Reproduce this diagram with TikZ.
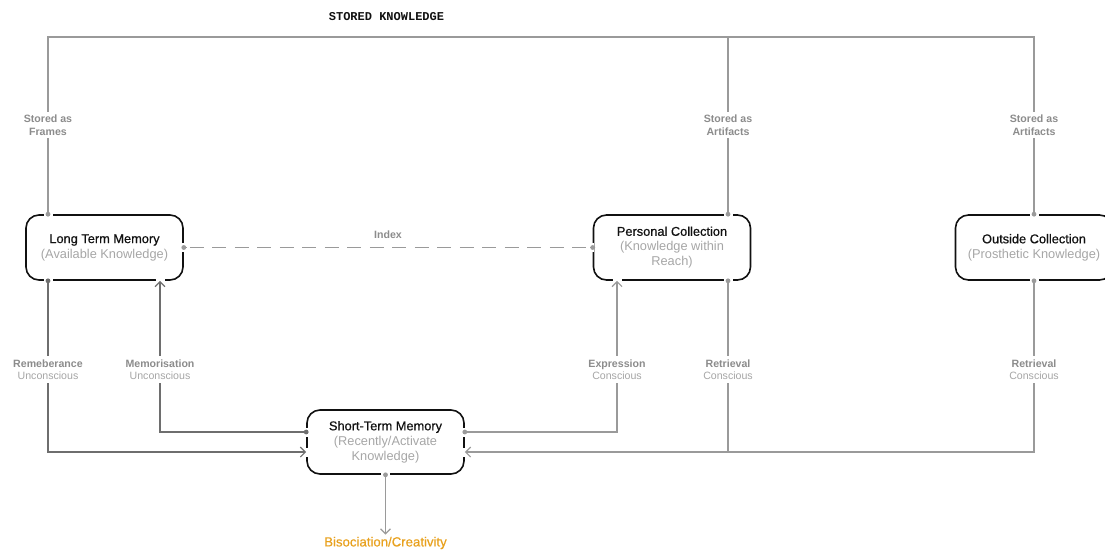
\documentclass[tikz,border=0pt]{standalone}
\usepackage{fontspec}
\setmainfont{Liberation Sans}
\setmonofont{Liberation Mono}
\newfontfamily\titlefont[FakeBold=0.6]{Liberation Sans}
\usetikzlibrary{arrows.meta,calc}

\definecolor{ink}{HTML}{111111}
\definecolor{soft}{HTML}{A6A6A6}
\definecolor{labelgray}{HTML}{8C8C8C}
\definecolor{wire}{HTML}{9A9A9A}
\definecolor{wiredark}{HTML}{6E6E6E}
\definecolor{accent}{HTML}{E8A11E}

% white breaks in a box border where a connector meets it
\newcommand\borderbreakH[1]{\draw[gapline] ($(#1)+(-4.5,0)$) -- ($(#1)+(4.5,0)$);}
\newcommand\borderbreakV[1]{\draw[gapline] ($(#1)+(0,-4.5)$) -- ($(#1)+(0,4.5)$);}

\begin{document}
\begin{tikzpicture}[x=1pt,y=-1pt,
  memory/.style={draw=ink, line width=1.6pt, rounded corners=13pt,
    minimum width=157pt, minimum height=65pt, inner sep=0pt,
    align=center, text=ink, font=\fontsize{12.8}{15}\selectfont},
  gapline/.style={draw=white, line width=3.5pt},
  wireline/.style={draw=wire, line width=1.4pt},
  darkline/.style={draw=wiredark, line width=1.4pt},
  flow/.style={-{Straight Barb[length=5pt,width=10pt,line width=1.2pt]}},
  tag/.style={fill=white, align=center, inner xsep=2pt, inner ysep=3pt,
    text=labelgray, font=\fontsize{10.6}{12.5}\selectfont},
]
\useasboundingbox (0,0) rectangle (1105,552);

% memory stores
\node[memory] (ltm) at (104.5,247.5)
  {{\titlefont Long Term Memory}\\{\color{soft}(Available Knowledge)}};
\node[memory] (pc) at (672,247.5)
  {{\titlefont Personal Collection}\\{\color{soft}(Knowledge within}\\{\color{soft}Reach)}};
\node[memory] (oc) at (1034,247.5)
  {{\titlefont Outside Collection}\\{\color{soft}(Prosthetic Knowledge)}};
\node[memory, minimum height=64pt] (stm) at (385.5,442)
  {{\titlefont Short-Term Memory}\\{\color{soft}(Recently/Activate}\\{\color{soft}Knowledge)}};

\node[text=accent, font=\titlefont\fontsize{13.2}{15}\selectfont, inner sep=1pt]
  (bis) at (385.5,543) {Bisociation/Creativity};
\node[font=\ttfamily\bfseries\fontsize{12}{14}\selectfont, text=ink]
  (title) at (386.5,17) {STORED KNOWLEDGE};

% connection points on the boxes
\coordinate (ltmN) at ($(ltm.north)+(-56.5,0)$);
\coordinate (ltmS) at ($(ltm.south)+(-56.5,0)$);
\coordinate (ltmA) at ($(ltm.south)+(55.5,0)$);
\coordinate (pcN) at ($(pc.north)+(56,0)$);
\coordinate (pcS) at ($(pc.south)+(56,0)$);
\coordinate (pcA) at ($(pc.south)+(-55,0)$);
\coordinate (ocN) at (oc.north);
\coordinate (ocS) at (oc.south);
\coordinate (stmWin) at ($(stm.west)+(0,10)$);
\coordinate (stmWout) at ($(stm.west)+(0,-10)$);
\coordinate (stmEin) at ($(stm.east)+(0,10)$);
\coordinate (stmEout) at ($(stm.east)+(0,-10)$);
\coordinate (railL) at (48,37);
\coordinate (railR) at (1034,37);

% breaks in the borders
\borderbreakH{ltmN}\borderbreakH{ltmS}\borderbreakH{ltmA}
\borderbreakH{pcN}\borderbreakH{pcS}\borderbreakH{pcA}
\borderbreakH{ocN}\borderbreakH{ocS}
\borderbreakH{stm.south}
\borderbreakV{ltm.east}\borderbreakV{pc.west}
\borderbreakV{stmWin}\borderbreakV{stmWout}
\borderbreakV{stmEin}\borderbreakV{stmEout}

% stored knowledge rail
\draw[wireline] (ltmN) -- (railL) -- (railR) -- (ocN);
\draw[wireline] (pcN) -- (pcN |- railL);

% index link
\draw[wireline, line width=1.7pt, dash pattern=on 14pt off 8.5pt]
  ($(ltm.east)+(6,0)$) -- ($(pc.west)+(-6,0)$);
\draw[wireline, line width=1.7pt] (ltm.east) -- ++(3,0);
\draw[wireline, line width=1.7pt] (pc.west) -- ++(-3,0);

% flows between stores
\draw[darkline, flow] (ltmS) |- (stmWin);
\draw[darkline, flow] (stmWout) -| (ltmA);
\draw[wireline, flow] (stmEout) -| (pcA);
\draw[wireline, flow] (pcS) |- (stmEin);
\draw[wireline] (ocS) |- (pcS |- stmEin);
\draw[wireline, flow] (stm.south) -- ($(bis.north)+(0,-1)$);

% start dots
\foreach \p in {ltmN,pcN,ocN,pcS,ocS,stmEout,stm.south,ltm.east,pc.west}
  \fill[wire] (\p) circle (2.4pt);
\foreach \p in {ltmS,stmWout}
  \fill[wiredark] (\p) circle (2.4pt);

% labels on the connectors
\node[tag] (l1) at (48,125) {\textbf{Stored as}\\\textbf{Frames}};
\node[tag] (l2) at (728,125) {\textbf{Stored as}\\\textbf{Artifacts}};
\node[tag] (l3) at (1034,125) {\textbf{Stored as}\\\textbf{Artifacts}};
\node[tag, fill=none] (l4) at (388,235) {\textbf{Index}};
\node[tag] (l5) at (48,369.5) {\textbf{Remeberance}\\{\color{soft}Unconscious}};
\node[tag] (l6) at (160,369.5) {\textbf{Memorisation}\\{\color{soft}Unconscious}};
\node[tag] (l7) at (617,369.5) {\textbf{Expression}\\{\color{soft}Conscious}};
\node[tag] (l8) at (728,369.5) {\textbf{Retrieval}\\{\color{soft}Conscious}};
\node[tag] (l9) at (1034,369.5) {\textbf{Retrieval}\\{\color{soft}Conscious}};
\end{tikzpicture}
\end{document}
